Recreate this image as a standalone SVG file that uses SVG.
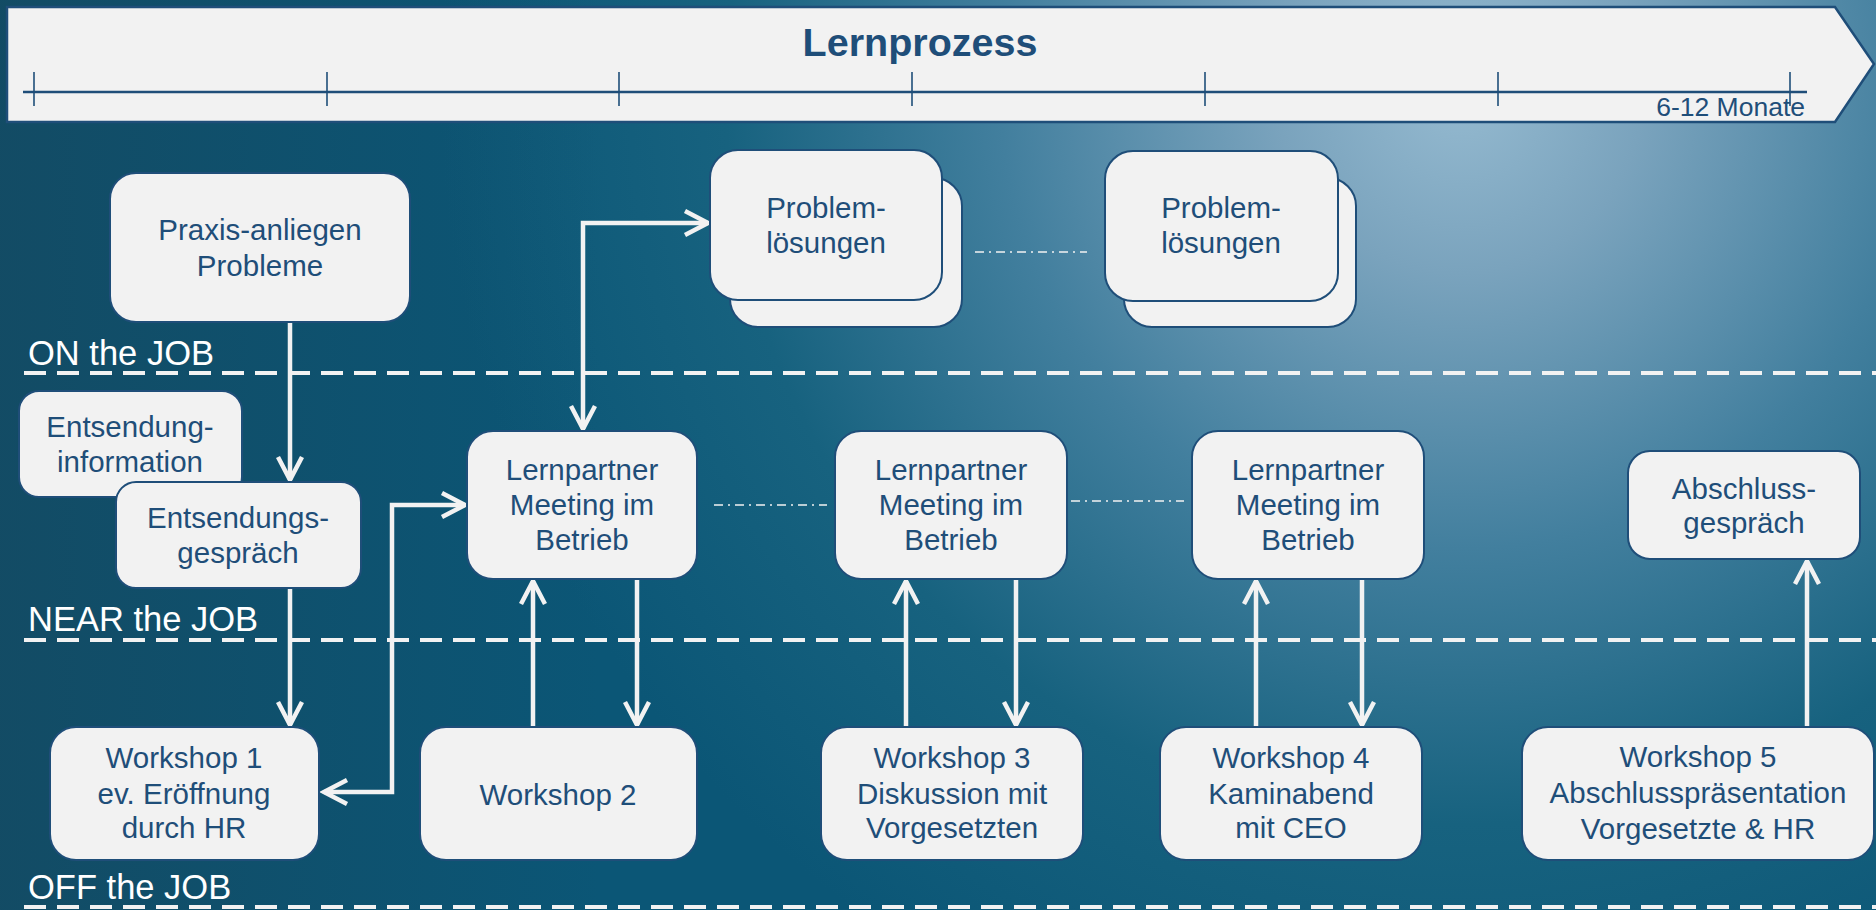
<svg xmlns="http://www.w3.org/2000/svg" width="1876" height="910" viewBox="0 0 1876 910">
<defs>
<radialGradient id="bgR" cx="1460" cy="90" r="1020" gradientUnits="userSpaceOnUse">
<stop offset="0" stop-color="#95bad0"/>
<stop offset="0.18" stop-color="#7aa3bd"/>
<stop offset="0.45" stop-color="#427f9e"/>
<stop offset="0.72" stop-color="#17627f"/>
<stop offset="1" stop-color="#0b5676"/>
</radialGradient>
<linearGradient id="bgL" x1="0" y1="0" x2="600" y2="0" gradientUnits="userSpaceOnUse">
<stop offset="0" stop-color="#15485f" stop-opacity="0.75"/>
<stop offset="1" stop-color="#15485f" stop-opacity="0"/>
</linearGradient>
<marker id="ah" markerUnits="userSpaceOnUse" markerWidth="34" markerHeight="34" viewBox="0 0 34 34" refX="28" refY="17" orient="auto-start-reverse">
<path d="M5,5 L28,17 L5,29" fill="none" stroke="#f2f2f2" stroke-width="4.5"/>
</marker>
<style>
.box{fill:#f2f2f2;stroke:#1f4e79;stroke-width:2}
.t{font-family:"Liberation Sans",Arial,sans-serif;font-size:29.5px;fill:#1f4e79;text-anchor:middle}
.lbl{font-family:"Liberation Sans",Arial,sans-serif;font-size:34.5px;fill:#ffffff}
.sep{stroke:#f2f2f2;stroke-width:4;stroke-dasharray:22 11;fill:none}
.con{fill:none;stroke:#f2f2f2;stroke-width:4.5}
.dd{fill:none;stroke:#f2f2f2;stroke-width:1.6;stroke-dasharray:9 5 2 5}
.tick{stroke:#1f4e79;stroke-width:1.6}
</style>
</defs>
<rect x="0" y="0" width="1876" height="910" fill="url(#bgR)"/>
<rect x="0" y="0" width="1876" height="910" fill="url(#bgL)"/>

<g id="banner">
<path d="M7,7 H1835 L1874,64 L1835,122 H7 Z" fill="#f2f2f2" stroke="#1f4e79" stroke-width="2.5"/>
<text x="920" y="56" font-family="'Liberation Sans',Arial,sans-serif" font-size="39.5" font-weight="bold" fill="#1f4e79" text-anchor="middle">Lernprozess</text>
<line x1="23" y1="92" x2="1807" y2="92" stroke="#1f4e79" stroke-width="2.5"/>
<line class="tick" x1="34" y1="72" x2="34" y2="106"/>
<line class="tick" x1="327" y1="72" x2="327" y2="106"/>
<line class="tick" x1="619" y1="72" x2="619" y2="106"/>
<line class="tick" x1="912" y1="72" x2="912" y2="106"/>
<line class="tick" x1="1205" y1="72" x2="1205" y2="106"/>
<line class="tick" x1="1498" y1="72" x2="1498" y2="106"/>
<line class="tick" x1="1790" y1="72" x2="1790" y2="106"/>
<text x="1805" y="116" font-family="'Liberation Sans',Arial,sans-serif" font-size="26.5" fill="#1f4e79" text-anchor="end">6-12 Monate</text>
</g>

<g id="zones">
<line class="sep" x1="24" y1="373" x2="1876" y2="373"/>
<line class="sep" x1="24" y1="640" x2="1876" y2="640"/>
<line class="sep" x1="24" y1="907" x2="1876" y2="907"/>
<text class="lbl" x="28" y="365">ON the JOB</text>
<text class="lbl" x="28" y="631">NEAR the JOB</text>
<text class="lbl" x="28" y="899">OFF the JOB</text>
</g>

<g id="connectors">
<path class="con" d="M290,323 V480" marker-end="url(#ah)"/>
<path class="con" d="M290,589 V725" marker-end="url(#ah)"/>
<path class="con" d="M583,429 V223 H708" marker-start="url(#ah)" marker-end="url(#ah)"/>
<path class="con" d="M324,792 H392 V505 H465" marker-start="url(#ah)" marker-end="url(#ah)"/>
<path class="con" d="M533,727 V581" marker-end="url(#ah)"/>
<path class="con" d="M637,579 V725" marker-end="url(#ah)"/>
<path class="con" d="M906,727 V581" marker-end="url(#ah)"/>
<path class="con" d="M1016,579 V725" marker-end="url(#ah)"/>
<path class="con" d="M1256,727 V581" marker-end="url(#ah)"/>
<path class="con" d="M1362,579 V725" marker-end="url(#ah)"/>
<path class="con" d="M1807,727 V561" marker-end="url(#ah)"/>
<path class="dd" d="M975,252 H1087"/>
<path class="dd" d="M714,505 H827"/>
<path class="dd" d="M1071,501 H1184"/>
</g>

<g id="praxis">
<rect class="box" x="110" y="173" width="300" height="149" rx="26"/>
<text class="t" x="260" y="240">Praxis-anliegen</text>
<text class="t" x="260" y="276">Probleme</text>
</g>

<g id="problemloesungen1">
<rect class="box" x="730" y="178" width="232" height="149" rx="28"/>
<rect class="box" x="710" y="150" width="232" height="150" rx="28"/>
<text class="t" x="826" y="218">Problem-</text>
<text class="t" x="826" y="253">lösungen</text>
</g>

<g id="problemloesungen2">
<rect class="box" x="1124" y="178" width="232" height="149" rx="28"/>
<rect class="box" x="1105" y="151" width="233" height="150" rx="28"/>
<text class="t" x="1221" y="218">Problem-</text>
<text class="t" x="1221" y="253">lösungen</text>
</g>

<g id="entsendunginfo">
<rect class="box" x="19" y="391" width="223" height="106" rx="20"/>
<text class="t" x="130" y="437">Entsendung-</text>
<text class="t" x="130" y="472">information</text>
</g>

<g id="entsendungsgespraech">
<rect class="box" x="116" y="482" width="245" height="106" rx="20"/>
<text class="t" x="238" y="528">Entsendungs-</text>
<text class="t" x="238" y="563">gespräch</text>
</g>

<g id="lernpartner1">
<rect class="box" x="467" y="431" width="230" height="148" rx="26"/>
<text class="t" x="582" y="480">Lernpartner</text>
<text class="t" x="582" y="515">Meeting im</text>
<text class="t" x="582" y="550">Betrieb</text>
</g>

<g id="lernpartner2">
<rect class="box" x="835" y="431" width="232" height="148" rx="26"/>
<text class="t" x="951" y="480">Lernpartner</text>
<text class="t" x="951" y="515">Meeting im</text>
<text class="t" x="951" y="550">Betrieb</text>
</g>

<g id="lernpartner3">
<rect class="box" x="1192" y="431" width="232" height="148" rx="26"/>
<text class="t" x="1308" y="480">Lernpartner</text>
<text class="t" x="1308" y="515">Meeting im</text>
<text class="t" x="1308" y="550">Betrieb</text>
</g>

<g id="abschlussgespraech">
<rect class="box" x="1628" y="451" width="232" height="108" rx="22"/>
<text class="t" x="1744" y="499">Abschluss-</text>
<text class="t" x="1744" y="533">gespräch</text>
</g>

<g id="workshop1">
<rect class="box" x="50" y="727" width="269" height="133" rx="26"/>
<text class="t" x="184" y="768">Workshop 1</text>
<text class="t" x="184" y="804">ev. Eröffnung</text>
<text class="t" x="184" y="838">durch HR</text>
</g>

<g id="workshop2">
<rect class="box" x="420" y="727" width="277" height="133" rx="26"/>
<text class="t" x="558" y="805">Workshop 2</text>
</g>

<g id="workshop3">
<rect class="box" x="821" y="727" width="262" height="133" rx="26"/>
<text class="t" x="952" y="768">Workshop 3</text>
<text class="t" x="952" y="804">Diskussion mit</text>
<text class="t" x="952" y="838">Vorgesetzten</text>
</g>

<g id="workshop4">
<rect class="box" x="1160" y="727" width="262" height="133" rx="26"/>
<text class="t" x="1291" y="768">Workshop 4</text>
<text class="t" x="1291" y="804">Kaminabend</text>
<text class="t" x="1291" y="838">mit CEO</text>
</g>

<g id="workshop5">
<rect class="box" x="1522" y="727" width="352" height="133" rx="26"/>
<text class="t" x="1698" y="767">Workshop 5</text>
<text class="t" x="1698" y="803">Abschlusspräsentation</text>
<text class="t" x="1698" y="839">Vorgesetzte &amp; HR</text>
</g>
</svg>
